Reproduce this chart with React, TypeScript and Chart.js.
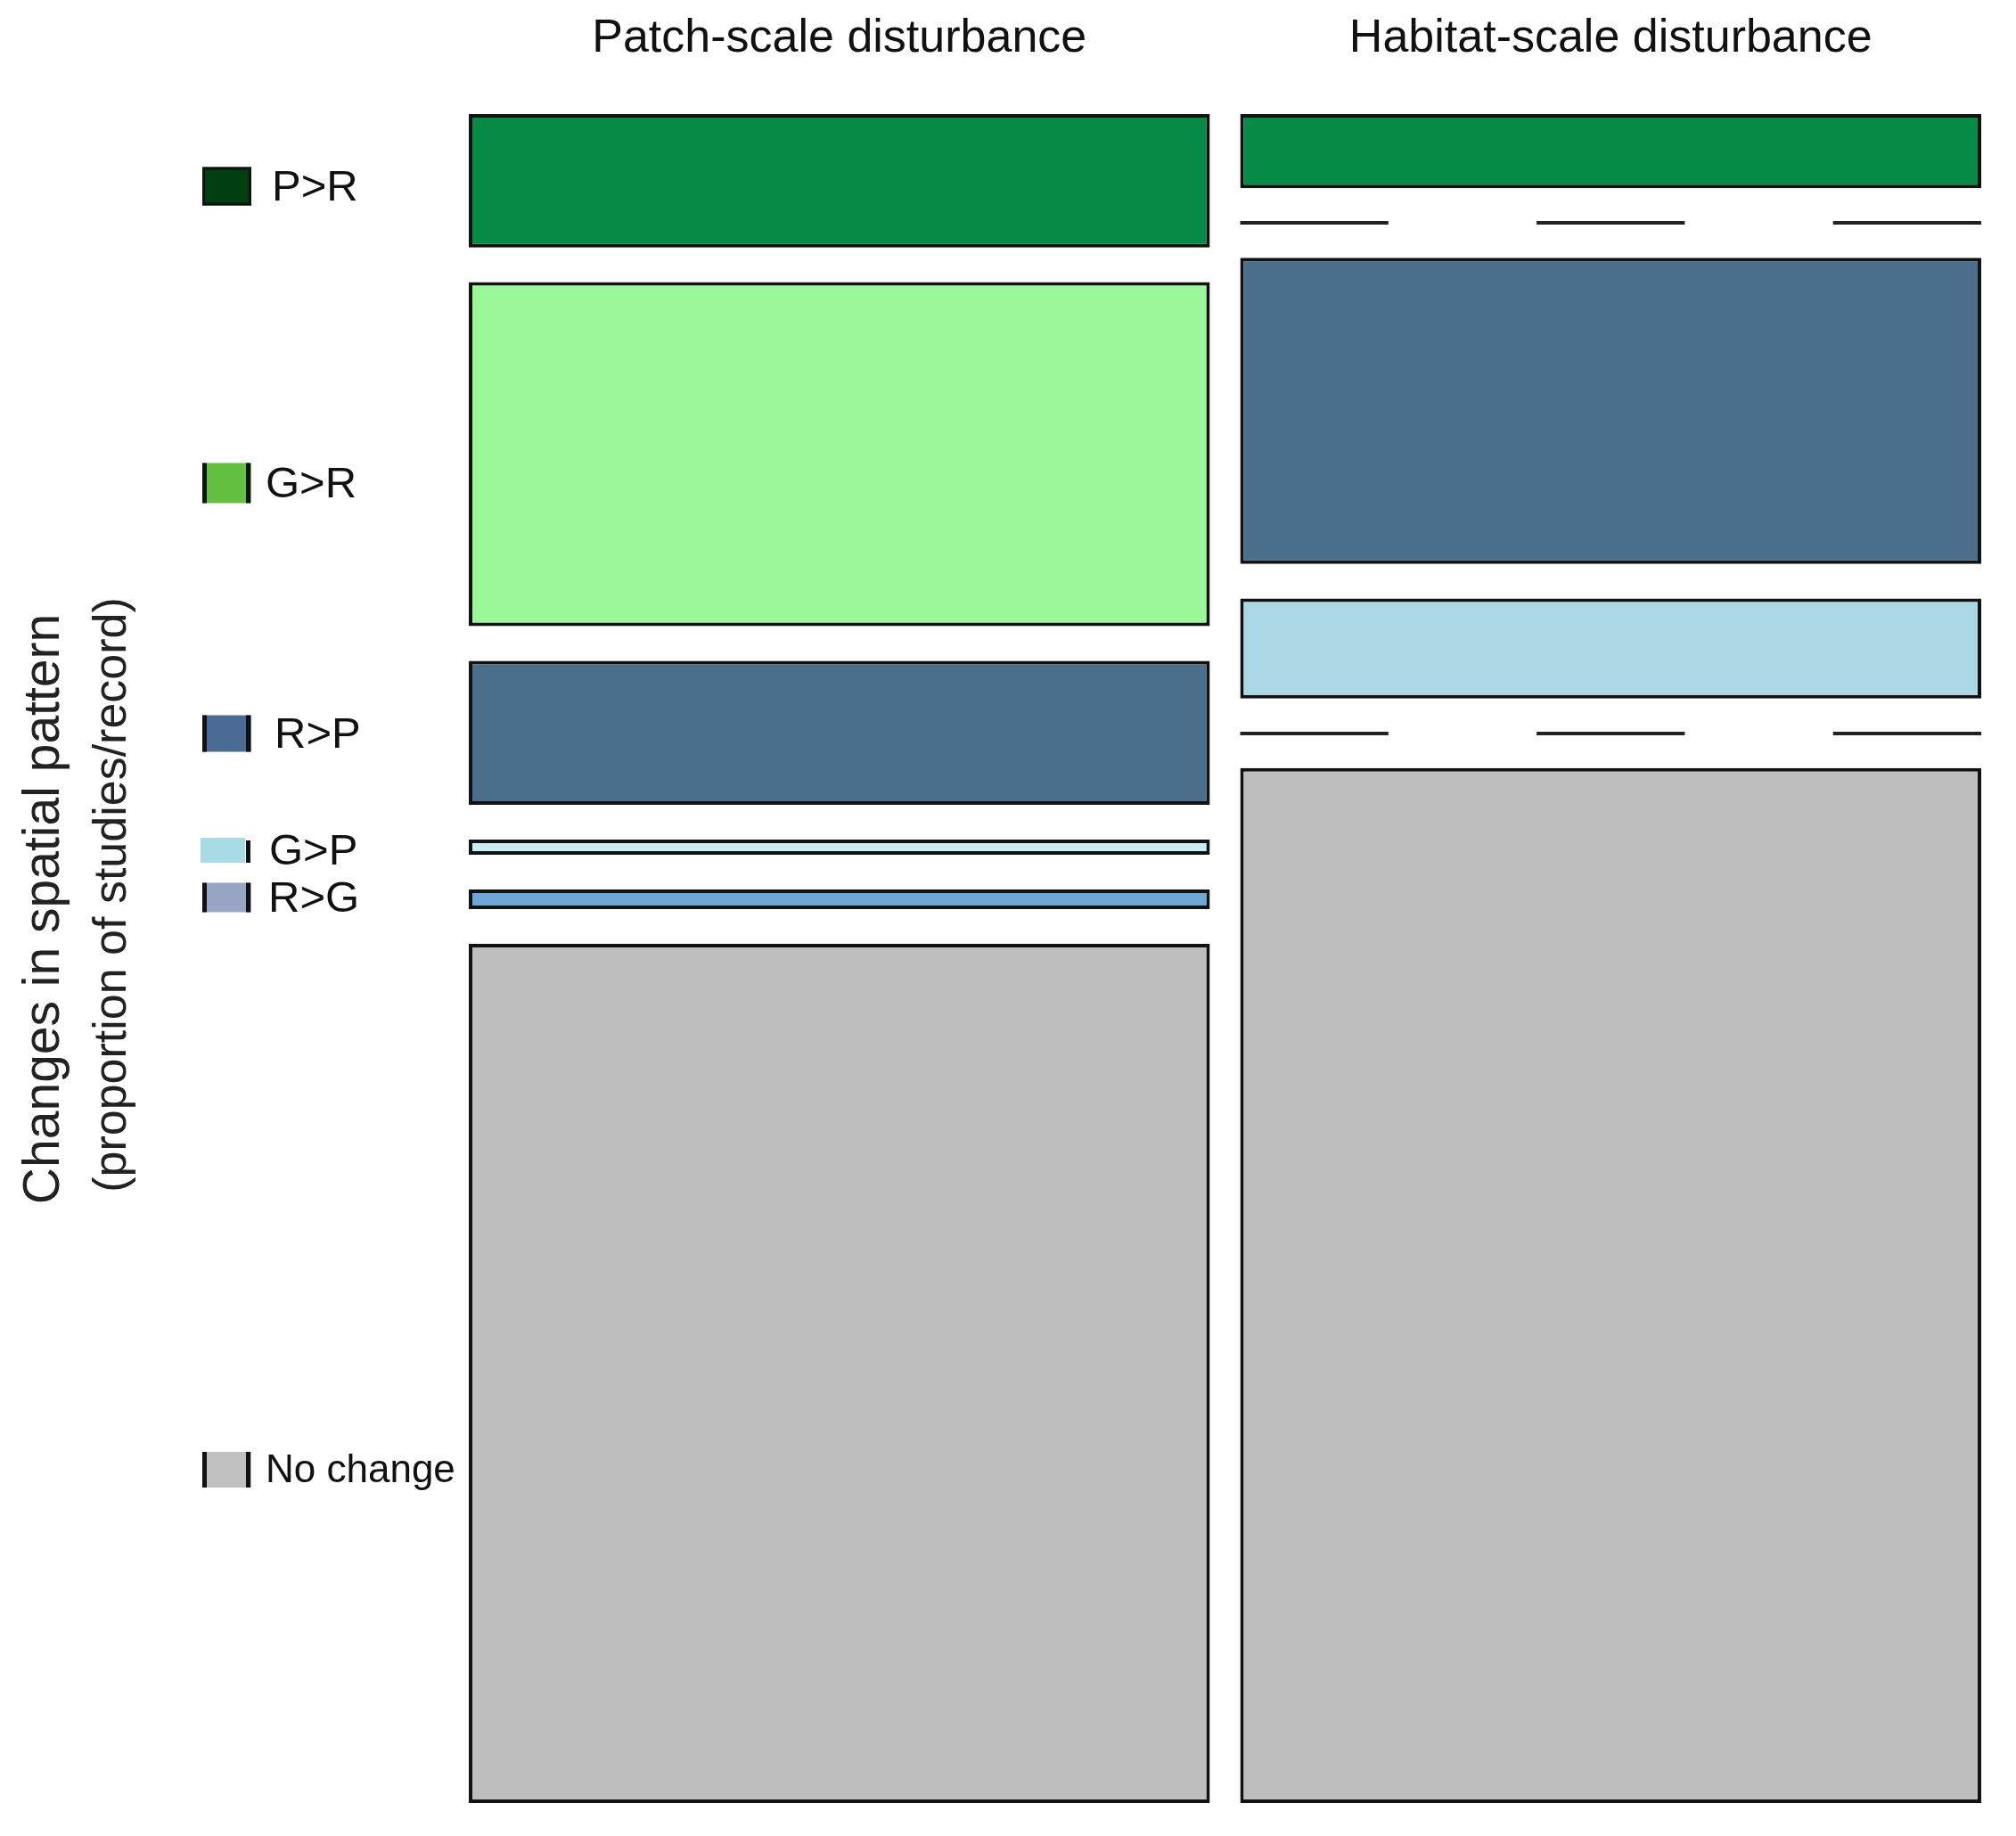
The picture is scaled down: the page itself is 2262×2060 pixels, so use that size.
import React, { useEffect, useRef } from "react";
import { Chart, registerables } from "chart.js";

Chart.register(...registerables);

// ---------- data ----------
const columns = ["Patch-scale disturbance", "Habitat-scale disturbance"];
const categories = ["P>R", "G>R", "R>P", "G>P", "R>G", "No change"];
const patchShares = [0.088, 0.227, 0.095, 0.01, 0.013, 0.567];
const habitatShares = [0.049, 0, 0.202, 0.066, 0, 0.683];

const tileColorsPatch = ["#058b46", "#9af898", "#4b6f8b", "#c8eef2", "#6ea7d5", "#bebebe"];
const tileColorsHabitat = ["#058b46", "#9af898", "#4b6f8b", "#acd8e6", "#6ea7d5", "#bebebe"];
const legendColors = ["#003f10", "#62bf3f", "#4a6b94", "#a9dbe6", "#97a4c4", "#c0c0c0"];

const yTitle = "Changes in spatial pattern";
const ySubtitle = "(proportion of studies/record)";

const GAP = 0.0229; // spacing between tiles, in share units

function spans(shares: number[]): [number, number][] {
  let acc = 0;
  return shares.map((s, i) => {
    const start = acc + i * GAP;
    acc += s;
    return [start, start + s];
  });
}
const patchSpans = spans(patchShares);
const habitatSpans = spans(habitatShares);
const columnShares = [patchShares, habitatShares];
const columnSpans = [patchSpans, habitatSpans];
const yMax = 1 + GAP * (categories.length - 1);

// ---------- legend layout ----------
const legendY = [209, 542, 823, 954, 1007, 1649];
const legendH = [43, 45, 41, 28, 33, 40];
const legendTextX = [305, 298, 308, 302, 301, 298];
const legendFont = [49, 49, 49, 49, 49, 44];
const legendStyle = ["box", "sides", "sides", "right", "sides", "sides"];

const FONT = "'Liberation Sans', Arial, sans-serif";

const decorPlugin = {
  id: "decor",
  afterDatasetsDraw(chart: any) {
    const ctx = chart.ctx as CanvasRenderingContext2D;
    const y = chart.scales.y;
    const x = chart.scales.x;
    // zero-share categories: dashed lines
    ctx.save();
    ctx.strokeStyle = "#222";
    ctx.lineWidth = 4;
    columns.forEach((_, ci) => {
      const ref = chart.getDatasetMeta(categories.length - 1).data[ci];
      const left = ref.x - ref.width / 2;
      const right = ref.x + ref.width / 2;
      const w = right - left;
      columnShares[ci].forEach((s, k) => {
        if (s === 0) {
          const py = Math.round(y.getPixelForValue(columnSpans[ci][k][0]));
          ctx.setLineDash([w / 5, w / 5]);
          ctx.beginPath();
          ctx.moveTo(left, py);
          ctx.lineTo(right, py);
          ctx.stroke();
        }
      });
    });
    ctx.restore();

    // column titles
    ctx.save();
    ctx.fillStyle = "#111";
    ctx.font = `52px ${FONT}`;
    ctx.textAlign = "center";
    ctx.textBaseline = "alphabetic";
    columns.forEach((c, i) => {
      ctx.fillText(c, x.getPixelForValue(i), 58);
    });
    ctx.restore();

    // y titles
    ctx.save();
    ctx.fillStyle = "#222";
    ctx.textAlign = "center";
    ctx.textBaseline = "middle";
    ctx.translate(50, 1020);
    ctx.rotate(-Math.PI / 2);
    ctx.font = `57px ${FONT}`;
    ctx.fillText(yTitle, 0, 0);
    ctx.restore();
    ctx.save();
    ctx.fillStyle = "#222";
    ctx.textAlign = "center";
    ctx.textBaseline = "middle";
    ctx.translate(127, 1004);
    ctx.rotate(-Math.PI / 2);
    ctx.font = `52px ${FONT}`;
    ctx.fillText(ySubtitle, 0, 0);
    ctx.restore();

    // legend
    ctx.save();
    categories.forEach((cat, i) => {
      const cy = legendY[i];
      const h = legendH[i];
      const top = cy - h / 2;
      const st = legendStyle[i];
      ctx.fillStyle = legendColors[i];
      if (st === "right") {
        ctx.fillRect(225, top, 50, h);
        ctx.fillStyle = "#111";
        ctx.fillRect(276, top + 3, 5, h - 3);
      } else if (st === "box") {
        ctx.fillRect(227, top, 55, h);
        ctx.strokeStyle = "#111";
        ctx.lineWidth = 3;
        ctx.strokeRect(228.5, top + 1.5, 52, h - 3);
      } else {
        ctx.fillRect(227, top, 55, h);
        ctx.fillStyle = "#111";
        ctx.fillRect(227, top, 5, h);
        ctx.fillRect(276, top, 5, h);
      }
      ctx.fillStyle = "#111";
      ctx.font = `${legendFont[i]}px ${FONT}`;
      ctx.textAlign = "left";
      ctx.textBaseline = "middle";
      ctx.fillText(cat, legendTextX[i], cy + 2);
    });
    ctx.restore();
  },
};

export default function App() {
  const ref = useRef<HTMLCanvasElement | null>(null);
  useEffect(() => {
    if (!ref.current) return;
    const datasets = categories.map((cat, k) => ({
      label: cat,
      data: columns.map((_, ci) =>
        columnShares[ci][k] > 0 ? columnSpans[ci][k] : null
      ) as any,
      backgroundColor: [tileColorsPatch[k], tileColorsHabitat[k]],
      borderColor: "#121212",
      borderWidth: 4,
      borderSkipped: false,
      grouped: false,
      barPercentage: 1,
      categoryPercentage: 0.9607,
    }));
    const chart = new Chart(ref.current, {
      type: "bar",
      data: { labels: columns, datasets: datasets as any },
      options: {
        responsive: false,
        maintainAspectRatio: false,
        animation: false,
        devicePixelRatio: 1,
        layout: { padding: { left: 509, right: 22, top: 128, bottom: 37 } },
        plugins: { legend: { display: false }, tooltip: { enabled: false }, title: { display: false } },
        scales: {
          x: { type: "category", display: false, offset: true },
          y: { type: "linear", display: false, reverse: true, min: 0, max: yMax },
        },
      },
      plugins: [decorPlugin],
    });
    return () => chart.destroy();
  }, []);
  return (
    <div style={{ position: "absolute", left: 0, top: 0, width: 2262, height: 2060, background: "#fff" }}>
      <canvas ref={ref} width={2262} height={2060} style={{ width: 2262, height: 2060, display: "block" }} />
    </div>
  );
}
